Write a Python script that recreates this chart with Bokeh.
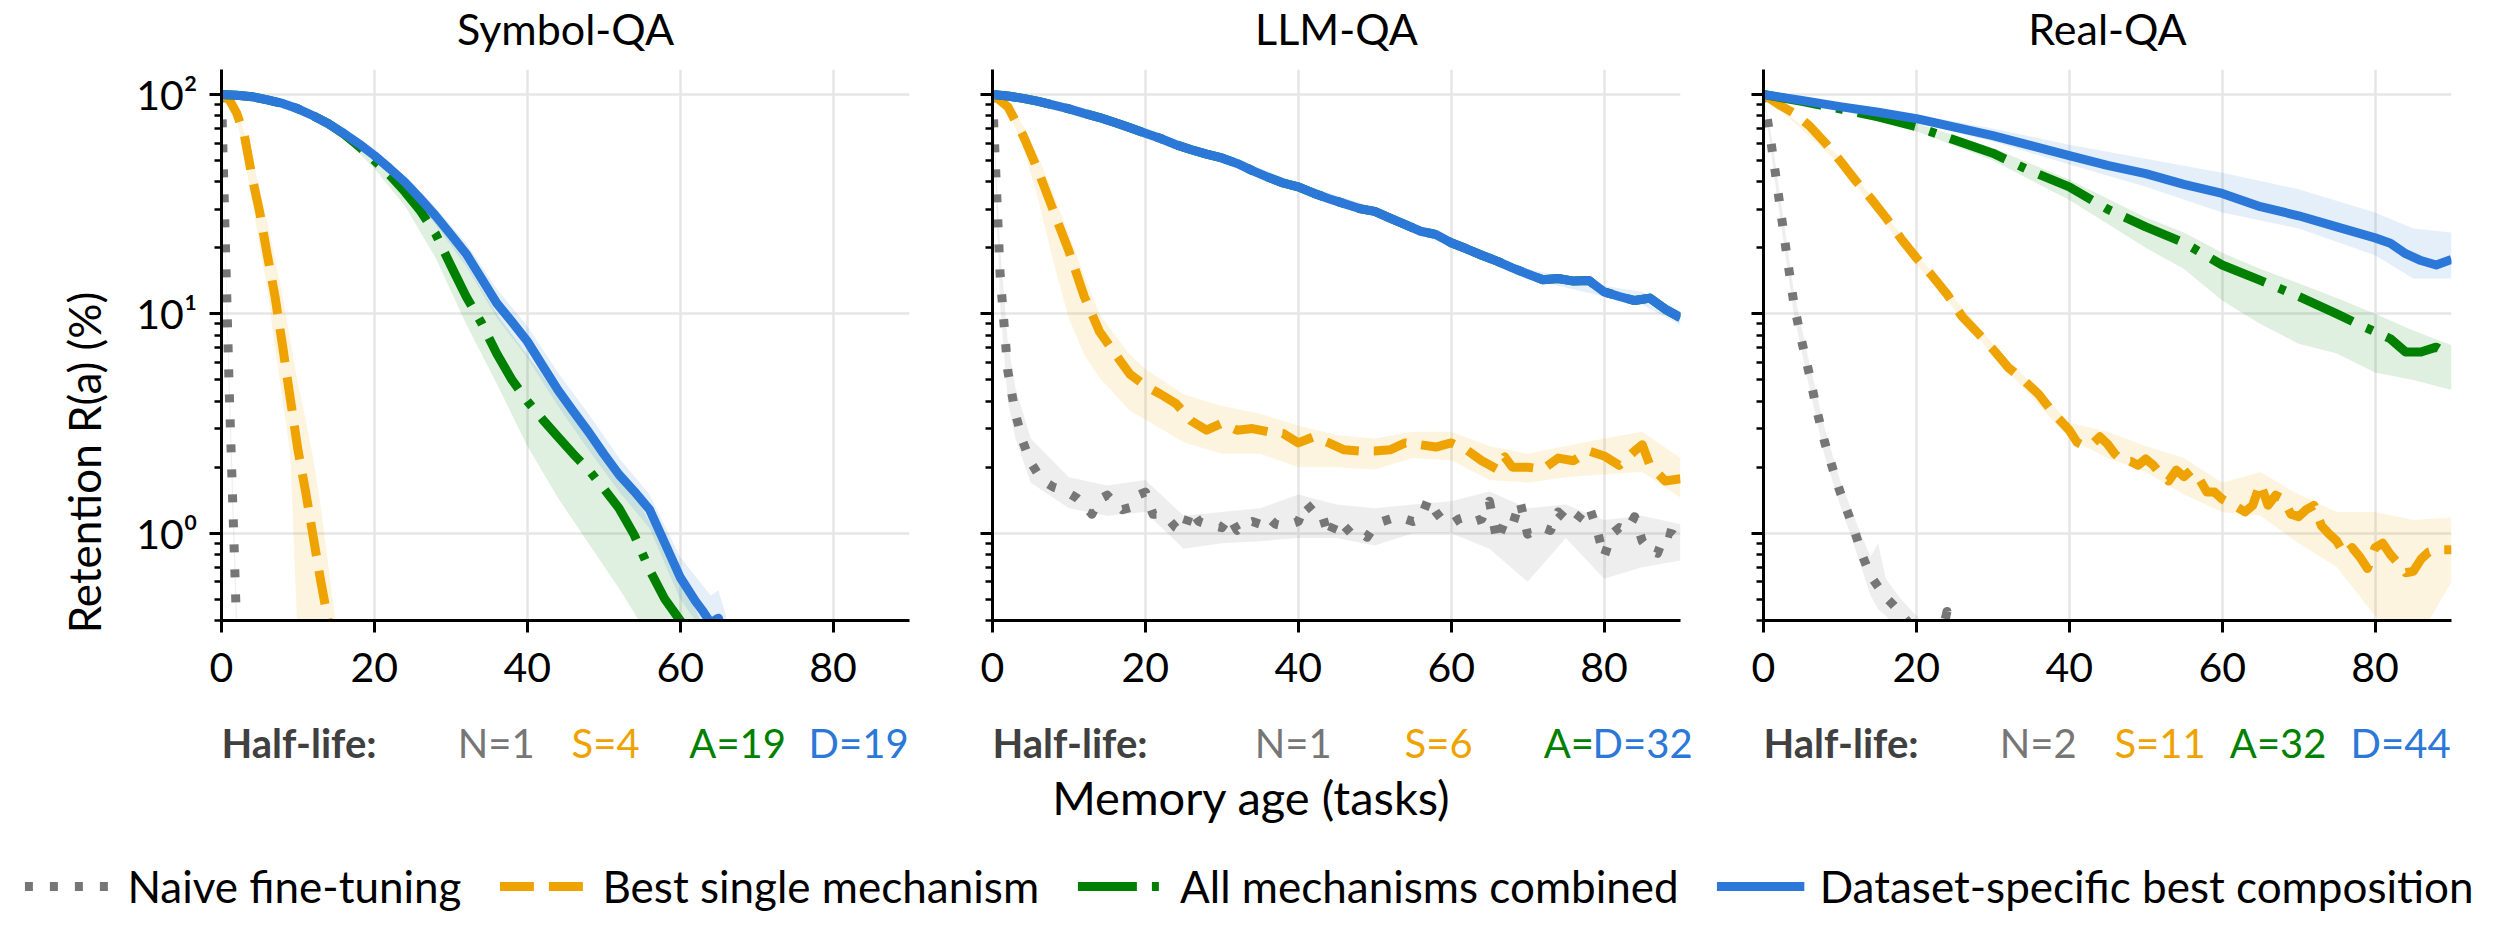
import math
from bokeh.plotting import figure
from bokeh.models import Range1d, FixedTicker, Label, Legend, LegendItem, Spacer
from bokeh.layouts import row, column
from bokeh.embed import file_html
from bokeh.resources import INLINE

# ----------------------------------------------------------------- data
PANEL_TITLES = ["Symbol-QA", "LLM-QA", "Real-QA"]
X_TICKS = [0, 20, 40, 60, 80]
Y_TICKS = [1, 10, 100]
Y_TICK_LABELS = ["10\u2070", "10\u00b9", "10\u00b2"]
X_LABEL = "Memory age (tasks)"
Y_LABEL = "Retention R(a) (%)"
SERIES_LABELS = ["Naive fine-tuning", "Best single mechanism",
                 "All mechanisms combined", "Dataset-specific best composition"]
HL_HEADER = "Half-life:"

# --- Symbol-QA
SYM_N_X = [0, 1, 2]
SYM_N_Y = [100, 4.6, 0.35]
SYM_S_X = list(range(0, 16))
SYM_S_Y = [100, 95, 82, 65, 42, 29, 18.5, 12, 7.1, 4.1, 2.4, 1.55, 0.96, 0.6, 0.39, 0.25]
SYM_A_X = list(range(0, 63, 2))
SYM_A_Y = [100, 99.3, 97.7, 94.5, 91, 86, 80, 73.5, 66, 58,
           50, 43, 36, 29.5, 23.2, 16.6, 12.0, 9.1, 6.6, 5.0,
           4.0, 3.3, 2.75, 2.3, 1.95, 1.6, 1.3, 0.98, 0.68, 0.5,
           0.4, 0.33]
SYM_D_X = list(range(0, 63, 2)) + [63, 64, 65, 66]
SYM_D_Y = [100, 99.3, 97.7, 94.5, 91, 86, 80, 73.5, 66.5, 59.5,
           52.7, 46, 39.8, 33.5, 28, 23, 18.8, 14.5, 11.2, 9.2,
           7.5, 5.8, 4.5, 3.6, 2.9, 2.3, 1.85, 1.55, 1.28, 0.9,
           0.63, 0.49, 0.44, 0.39, 0.41, 0.3]
SYM_N_BX = [0, 1, 2]
SYM_N_LO = [100, 3.8, 0.3]
SYM_N_HI = [100, 5.5, 0.45]
SYM_S_BX = [0, 2, 4, 5, 6, 7, 8, 9, 10, 11, 12, 13, 14, 15]
SYM_S_LO = [100, 78, 33, 20, 13, 7, 4, 2.3, 0.3, 0.3, 0.3, 0.3, 0.3, 0.3]
SYM_S_HI = [100, 86, 52, 37, 26, 18, 12, 7.5, 4.8, 3.3, 2.2, 1.3, 0.7, 0.38]
SYM_A_BX = [0, 4, 8, 12, 16, 20, 24, 28, 32, 36, 40, 44, 48, 52, 55, 58, 60, 62, 63]
SYM_A_LO = [100, 97, 89.5, 78, 63.5, 46, 31, 18, 9, 4.8, 2.5, 1.45, 0.9, 0.56, 0.38, 0.3, 0.3, 0.3, 0.3]
SYM_A_HI = [100, 98.5, 92.5, 82, 68, 53, 40, 28, 17, 10, 6.5, 4.2, 2.7, 1.8, 1.3, 0.85, 0.62, 0.45, 0.38]
SYM_D_BX = [0, 4, 8, 12, 16, 20, 24, 28, 32, 36, 40, 44, 48, 52, 56, 60, 64, 65, 66]
SYM_D_LO = [100, 97, 89.5, 78, 64, 50, 37, 25.5, 16.5, 9.6, 6.3, 3.8, 2.4, 1.55, 1.05, 0.5, 0.32, 0.3, 0.3]
SYM_D_HI = [100, 98.5, 92.5, 82, 69, 55.5, 42.5, 30.5, 21, 13, 8.8, 5.4, 3.5, 2.2, 1.5, 0.78, 0.52, 0.55, 0.42]
SYM_HL = ["N=1", "S=4", "A=19", "D=19"]

# --- LLM-QA
LLM_N_X = list(range(0, 91))
LLM_N_Y = [100, 15, 5.5, 3.5, 2.6, 2.1, 1.85, 1.7, 1.62, 1.58,
           1.52, 1.45, 1.35, 1.22, 1.43, 1.49, 1.37, 1.28, 1.31, 1.49,
           1.54, 1.22, 1.22, 1.16, 1.06, 1.01, 1.28, 1.13, 1.10, 1.08,
           1.06, 1.19, 1.03, 1.10, 1.13, 1.10, 1.19, 1.10, 1.08, 1.10,
           1.13, 1.37, 1.25, 1.25, 0.96, 1.16, 1.08, 0.99, 1.01, 0.96,
           1.08, 1.13, 1.16, 1.19, 1.16, 1.13, 1.16, 1.43, 1.25, 1.13,
           1.10, 1.16, 1.19, 1.13, 1.16, 1.40, 0.92, 1.13, 1.08, 1.40,
           0.99, 1.03, 1.06, 1.03, 1.25, 1.16, 1.10, 1.22, 1.34, 1.06,
           0.78, 0.99, 1.06, 1.03, 1.19, 0.92, 0.83, 0.81, 1.01, 0.99,
           0.92]
LLM_S_X = list(range(0, 67, 2)) + [67] + list(range(68, 85, 2)) + [85, 86, 88, 90]
LLM_S_Y = [100, 88, 65, 44.7, 29.3, 19.3, 12.0, 8.3, 6.6, 5.3,
           4.7, 4.3, 3.9, 3.25, 2.95, 3.17, 2.95, 3.0, 2.9, 2.85,
           2.58, 2.75, 2.58, 2.4, 2.37, 2.37, 2.4, 2.58, 2.53, 2.47,
           2.58, 2.4, 2.14, 1.96, 2.23, 2.0, 2.0, 1.96, 2.2, 2.14,
           2.37, 2.25, 2.04, 2.37, 2.53, 2.04, 1.73, 1.77]
LLM_D_X = list(range(0, 91, 2))
LLM_D_Y = [100, 98.5, 96, 93, 89.5, 86, 82, 78.5, 74.5, 70.5,
           66.6, 63, 59, 56, 53.5, 51.4, 48.5, 45, 42, 39.5,
           37.9, 35.5, 33.5, 31.8, 30.2, 29.3, 27.3, 25.5, 23.8, 23.0,
           21.1, 19.8, 18.5, 17.4, 16.2, 15.2, 14.3, 14.5, 14.1, 14.2,
           12.6, 12.0, 11.5, 11.8, 10.5, 9.6]
LLM_A_X = list(range(0, 91, 2))
LLM_A_Y = [100, 98.5, 96, 93, 89.5, 86, 82, 78.5, 74.5, 70.5,
           66.6, 63, 59, 56, 53.5, 51.4, 48.5, 45, 42, 39.5,
           37.9, 35.5, 33.5, 31.8, 30.2, 29.3, 27.3, 25.5, 23.8, 23.0,
           21.1, 19.8, 18.5, 17.4, 16.2, 15.2, 14.3, 14.5, 14.1, 14.2,
           12.6, 12.0, 11.5, 11.8, 10.5, 9.6]
LLM_N_BX = [0, 1, 2, 3, 5, 10, 15, 20, 25, 30, 35, 40, 45, 50, 55, 60, 65, 70, 75, 80, 85, 90]
LLM_N_LO = [100, 11, 4.0, 2.7, 1.7, 1.3, 1.2, 1.25, 0.85, 0.9, 0.92, 0.95, 0.95, 0.88, 1.0, 1.0, 0.85, 0.6, 0.95, 0.62, 0.7, 0.75]
LLM_N_HI = [100, 20, 7.5, 4.6, 2.7, 1.8, 1.65, 1.75, 1.2, 1.25, 1.3, 1.5, 1.35, 1.3, 1.35, 1.4, 1.55, 1.3, 1.35, 1.15, 1.2, 1.1]
LLM_S_BX = [0, 2, 4, 6, 8, 10, 12, 14, 16, 18, 20, 25, 30, 35, 40, 45, 50, 55, 60, 65, 70, 75, 80, 85, 90]
LLM_S_LO = [100, 85, 58, 33, 17, 9.5, 6.5, 5.1, 4.3, 3.6, 3.3, 2.6, 2.3, 2.3, 2.0, 2.0, 1.95, 2.2, 2.15, 1.75, 1.7, 1.8, 1.85, 1.9, 1.45]
LLM_S_HI = [100, 92, 72, 52, 35, 23, 15, 10, 8, 6.5, 5.6, 4.3, 3.8, 3.5, 3.1, 2.8, 2.7, 2.9, 2.9, 2.5, 2.3, 2.5, 2.7, 2.9, 2.2]
LLM_D_BX = [0, 10, 20, 30, 40, 50, 60, 70, 80, 85, 90]
LLM_D_LO = [100, 84, 64.5, 49.5, 36.5, 28.2, 20.2, 14.5, 12, 11, 8.9]
LLM_D_HI = [100, 88.5, 69, 53.5, 39.5, 30.5, 22, 16, 13.4, 12.6, 10.3]
LLM_HL = ["N=1", "S=6", "A=", "D=32"]

# --- Real-QA
REAL_N_X = list(range(0, 26))
REAL_N_Y = [100, 60, 34, 19, 11, 7.5, 5.3, 3.6, 2.6, 2.0,
            1.55, 1.25, 1.0, 0.78, 0.64, 0.57, 0.51, 0.47, 0.43, 0.39,
            0.33, 0.25, 0.22, 0.3, 0.44, 0.2]
REAL_S_X = list(range(0, 41, 2)) + list(range(41, 91))
REAL_S_Y = [100, 90, 82, 72, 60.6, 50, 40.7, 33.7, 27.5, 22,
            18, 15, 12.3, 9.7, 8.2, 6.9, 5.7, 5.0, 4.3, 3.5, 2.95,
            2.6, 2.5, 2.55, 2.75, 2.55, 2.29, 2.13, 2.13, 2.04, 2.18,
            2.04, 1.85, 1.73, 1.94, 1.81, 1.94, 1.77, 1.54, 1.54, 1.43,
            1.37, 1.31, 1.25, 1.34, 1.69, 1.34, 1.49, 1.43, 1.22, 1.19,
            1.28, 1.34, 1.08, 0.99, 0.92, 0.8, 0.86, 0.78, 0.69, 0.86,
            0.9, 0.8, 0.73, 0.66, 0.67, 0.76, 0.82, 0.84, 0.84, 0.84]
REAL_A_X = [0, 5, 10, 15, 20, 25, 30, 35, 40, 45, 50, 55, 60, 65, 70, 75, 78, 80, 82, 84, 86, 88, 90]
REAL_A_Y = [100, 93, 86, 79, 71.4, 62, 54, 44.7, 37.9, 30, 24.9, 21.1, 16.7, 14.2, 12, 10, 8.9, 8.3, 7.7, 6.7, 6.7, 7.05, 6.4]
REAL_D_X = [0, 5, 10, 15, 20, 25, 30, 35, 40, 45, 50, 55, 60, 65, 70, 75, 80, 82, 84, 86, 88, 90]
REAL_D_Y = [100, 94, 88, 83, 77.6, 71, 65, 58.5, 52.6, 47.5, 43.6, 38.9, 35.4, 30.8, 28, 24.9, 22.2, 21, 18.8, 17.5, 16.7, 17.7]
REAL_N_BX = [0, 1, 2, 4, 6, 8, 10, 12, 14, 15, 16, 18, 20, 22]
REAL_N_LO = [100, 54, 30, 9.8, 4.6, 2.25, 1.35, 0.85, 0.52, 0.45, 0.42, 0.35, 0.3, 0.3]
REAL_N_HI = [100, 66, 38, 12.5, 6, 3.0, 1.75, 1.15, 0.78, 0.9, 0.62, 0.5, 0.42, 0.36]
REAL_S_BX = [0, 10, 20, 30, 40, 45, 50, 55, 60, 65, 70, 75, 80, 85, 90]
REAL_S_LO = [100, 48, 16.8, 6.5, 2.7, 2.2, 1.9, 1.5, 1.25, 1.2, 0.9, 0.7, 0.42, 0.3, 0.6]
REAL_S_HI = [100, 52, 18.8, 7.3, 3.2, 2.9, 2.5, 2.2, 1.7, 1.9, 1.5, 1.25, 1.25, 1.15, 1.18]
REAL_A_BX = [0, 10, 20, 30, 40, 50, 55, 60, 65, 70, 75, 80, 85, 90]
REAL_A_LO = [100, 85, 68, 50, 33, 20, 16, 11.5, 9, 7.3, 6.6, 5.4, 5.0, 4.5]
REAL_A_HI = [100, 87.5, 74, 57, 41, 27.5, 23.5, 19, 16, 13.8, 11.8, 10, 8.4, 7.2]
REAL_D_BX = [0, 10, 20, 30, 40, 50, 60, 70, 80, 85, 90]
REAL_D_LO = [100, 86, 74.5, 61, 48, 38, 29, 24.5, 18.5, 14.5, 14.5]
REAL_D_HI = [100, 90, 81, 70, 59, 51, 44, 37, 29, 24.5, 23.5]
REAL_HL = ["N=2", "S=11", "A=32", "D=44"]

# ----------------------------------------------------------------- style / layout
GRAY, ORANGE, GREEN, BLUE = "#767676", "#EFA300", "#008000", "#2B78D8"
COLORS = [GRAY, ORANGE, GREEN, BLUE]
DASHES = ["8 17", "34 15", "59 15 7 15", "solid"]
LW = 9
FONT = "Lato"

TITLE_H = 59
FRAME_W, FRAME_H = 688, 551
PAD_TOP = 10
PAD_BOTTOM = 80
MID_H = PAD_TOP + FRAME_H + PAD_BOTTOM          # 641
YLAB_W = 131
YLAB_TOP = 165
LEFTS = [221 - YLAB_W, 41, 41]
RIGHTS = [42, 42, 40]
FRAME_LEFTS = [221, 992, 1763]
XMAX = 90
YMIN, YMAX = 0.4, 130
TOP_W = YLAB_W + sum(LEFTS) + 3 * FRAME_W + sum(RIGHTS)
BOT_W, BOT_H = 2498, 230

HL_POS = [[0, 30.9, 45.8, 61.2, 76.8],
          [0, 34.3, 53.9, 72.1, 78.5],
          [0, 30.9, 45.9, 61.0, 76.8]]
HL_COLORS = [GRAY, ORANGE, GREEN, BLUE]

PANELS = [
    dict(lines=[(SYM_N_X, SYM_N_Y), (SYM_S_X, SYM_S_Y), (SYM_A_X, SYM_A_Y), (SYM_D_X, SYM_D_Y)],
         bands=[(SYM_N_BX, SYM_N_LO, SYM_N_HI), (SYM_S_BX, SYM_S_LO, SYM_S_HI),
                (SYM_A_BX, SYM_A_LO, SYM_A_HI), (SYM_D_BX, SYM_D_LO, SYM_D_HI)],
         hl=SYM_HL),
    dict(lines=[(LLM_N_X, LLM_N_Y), (LLM_S_X, LLM_S_Y), (LLM_A_X, LLM_A_Y), (LLM_D_X, LLM_D_Y)],
         bands=[(LLM_N_BX, LLM_N_LO, LLM_N_HI), (LLM_S_BX, LLM_S_LO, LLM_S_HI),
                None, (LLM_D_BX, LLM_D_LO, LLM_D_HI)],
         hl=LLM_HL),
    dict(lines=[(REAL_N_X, REAL_N_Y), (REAL_S_X, REAL_S_Y), (REAL_A_X, REAL_A_Y), (REAL_D_X, REAL_D_Y)],
         bands=[(REAL_N_BX, REAL_N_LO, REAL_N_HI), (REAL_S_BX, REAL_S_LO, REAL_S_HI),
                (REAL_A_BX, REAL_A_LO, REAL_A_HI), (REAL_D_BX, REAL_D_LO, REAL_D_HI)],
         hl=REAL_HL),
]

MINOR = [m * 10.0 ** e for e in (-1, 0, 1, 2) for m in range(2, 10) if YMIN <= m * 10.0 ** e <= YMAX]


def strip(w, h):
    """blank figure whose data coordinates are its own pixels (y downwards)"""
    f = figure(width=w, height=h, title=None, x_range=Range1d(0, w), y_range=Range1d(h, 0),
               output_backend="svg", toolbar_location=None, min_border=0,
               x_axis_location=None, y_axis_location=None)
    f.outline_line_color = None
    f.xgrid.visible = False
    f.ygrid.visible = False
    return f


def make_panel(i):
    spec = PANELS[i]
    p = figure(width=LEFTS[i] + FRAME_W + RIGHTS[i], height=MID_H, title=None, y_axis_type="log",
               x_range=Range1d(0, XMAX), y_range=Range1d(YMIN, YMAX),
               output_backend="svg", toolbar_location=None,
               min_border_left=LEFTS[i], min_border_right=RIGHTS[i],
               min_border_top=PAD_TOP, min_border_bottom=PAD_BOTTOM)
    p.outline_line_color = None

    for g in (p.xgrid, p.ygrid):
        g.grid_line_color = "#e6e6e6"
        g.grid_line_width = 2.5

    xa, ya = p.xaxis[0], p.yaxis[0]
    xa.ticker = FixedTicker(ticks=X_TICKS)
    ya.ticker = FixedTicker(ticks=Y_TICKS, minor_ticks=MINOR)
    for ax in (xa, ya):
        ax.axis_line_color = "black"
        ax.axis_line_width = 3
        ax.major_tick_line_color = "black"
        ax.major_tick_line_width = 3
        ax.major_tick_in = 0
        ax.major_tick_out = 12
        ax.major_label_text_font = FONT
        ax.major_label_text_color = "black"
        ax.major_label_text_font_size = "41px"
    xa.minor_tick_line_color = None
    xa.major_label_standoff = 20
    ya.minor_tick_line_color = "black"
    ya.minor_tick_line_width = 2.5
    ya.minor_tick_in = 0
    ya.minor_tick_out = 7
    if i == 0:
        ya.major_label_overrides = {t: s for t, s in zip(Y_TICKS, Y_TICK_LABELS)}
        ya.major_label_standoff = 12
    else:
        ya.major_label_text_font_size = "2px"
        ya.major_label_text_color = None
        ya.major_label_standoff = 0

    for band, c in zip(spec["bands"], COLORS):
        if band is None:
            continue
        bx, lo, hi = band
        p.varea(x=bx, y1=lo, y2=hi, fill_color=c, fill_alpha=0.12)
    for (lx, ly), c, d in zip(spec["lines"], COLORS, DASHES):
        p.line(lx, ly, line_color=c, line_width=LW, line_dash=d, line_join="round")
    return p


# --- panel titles
titles = strip(TOP_W, TITLE_H)
for i, t in enumerate(PANEL_TITLES):
    titles.add_layout(Label(x=FRAME_LEFTS[i] + FRAME_W / 2, y=28, text=t, text_font=FONT,
                            text_font_size="43px", text_color="black",
                            text_align="center", text_baseline="middle"))

# --- shared y-axis label, centred on the whole figure height
ylab = figure(width=YLAB_W, height=MID_H - YLAB_TOP, title=None, x_range=Range1d(0, 1), y_range=Range1d(0, 1),
              output_backend="svg", toolbar_location=None, x_axis_location=None,
              min_border_left=109, min_border_right=0, min_border_top=0, min_border_bottom=0)
ylab.outline_line_color = None
ylab.xgrid.visible = False
ylab.ygrid.visible = False
yl = ylab.yaxis[0]
yl.ticker = FixedTicker(ticks=[])
yl.axis_line_color = None
yl.major_tick_line_color = None
yl.minor_tick_line_color = None
yl.major_tick_out = 0
yl.minor_tick_out = 0
yl.major_label_standoff = 0
yl.axis_label = Y_LABEL
yl.axis_label_standoff = 0
yl.axis_label_text_font = FONT
yl.axis_label_text_font_size = "44px"
yl.axis_label_text_font_style = "normal"
yl.axis_label_text_color = "black"
ylab_box = column(Spacer(width=YLAB_W, height=YLAB_TOP), ylab)

panels = [make_panel(i) for i in range(3)]

# --- bottom strip: half-life row, x label, legend
bot = strip(BOT_W, BOT_H)
HL_Y = 42
for i, spec in enumerate(PANELS):
    fl = FRAME_LEFTS[i]
    bot.add_layout(Label(x=fl + HL_POS[i][0] * FRAME_W / XMAX, y=HL_Y, text=HL_HEADER,
                         text_font=FONT, text_font_size="40px", text_font_style="bold",
                         text_color="#404040", text_align="left", text_baseline="middle"))
    for txt, xpos, c in zip(spec["hl"], HL_POS[i][1:], HL_COLORS):
        bot.add_layout(Label(x=fl + xpos * FRAME_W / XMAX, y=HL_Y, text=txt,
                             text_font=FONT, text_font_size="40px", text_color=c,
                             text_align="left", text_baseline="middle"))

bot.add_layout(Label(x=1251, y=96, text=X_LABEL, text_font=FONT, text_font_size="47px",
                     text_color="black", text_align="center", text_baseline="middle"))
items = []
for lab, c, d in zip(SERIES_LABELS, COLORS, DASHES):
    r = bot.line(x=[0, 0], y=[-10, -10], line_color=c, line_width=LW, line_dash=d)
    items.append(LegendItem(label=lab, renderers=[r]))
legend = Legend(items=items, orientation="horizontal", location="bottom_center",
                glyph_width=88, glyph_height=20, label_standoff=15, spacing=38,
                padding=0, margin=18, border_line_color=None, background_fill_alpha=0,
                label_text_font=FONT, label_text_font_size="44px", label_text_color="black")
bot.add_layout(legend)

layout = column(titles, row(ylab_box, *panels), bot)
open("out.html", "w").write(file_html(layout, INLINE))
